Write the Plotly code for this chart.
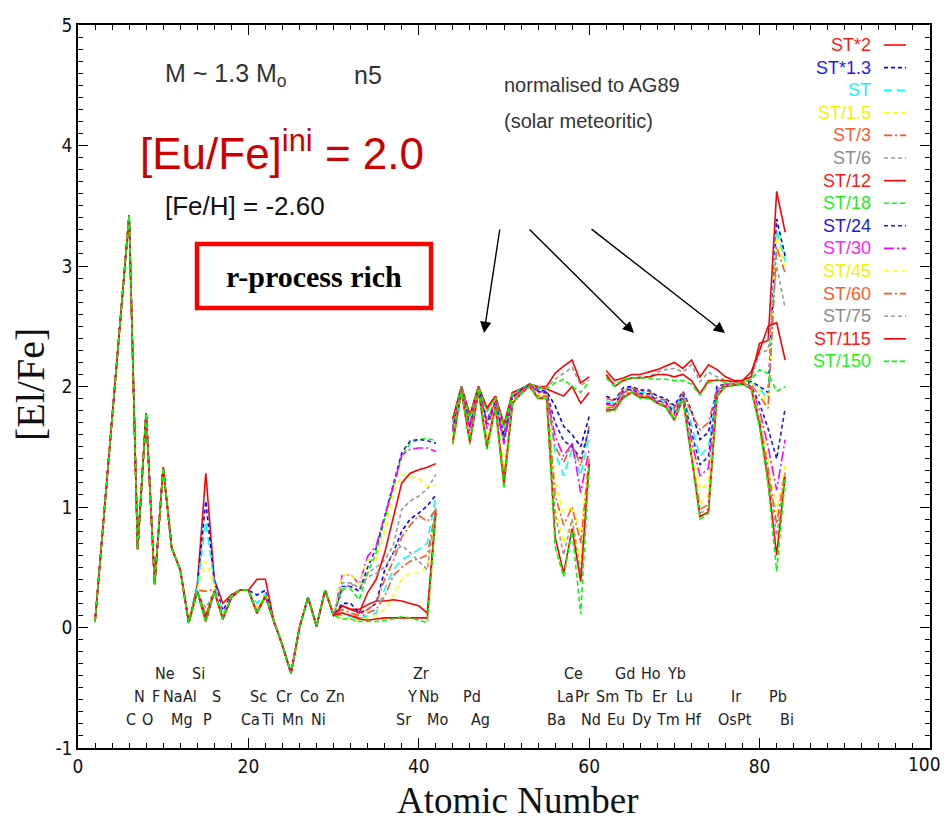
import plotly.graph_objects as go

# ---------------- data ----------------
Z = list(range(2, 84))  # atomic numbers 2..83 (Tc=43 and Pm=61 are gaps)

# values shared by every model
common_light = [0.05, 0.90, 1.75, 2.60, 3.42, 0.65, 1.78, 0.36, 1.33, 0.66, 0.48, 0.04]  # Z 2-13
common_fe = [0.05, -0.15, -0.38, 0.00, 0.25, 0.01, 0.31, 0.10]  # Z 23-30

# per-model values: Z14-22 (9) | Z31-42 (12) | Z44-60 (17) | Z62-83 (22)
st_x2 = [0.35, 1.28, 0.40, 0.20, 0.27, 0.31, 0.31, 0.40, 0.40,
         0.18, 0.15, 0.15, 0.19, 0.22, 0.22, 0.23, 0.22, 0.20, 0.18, 0.12, 0.98,
         1.73, 2.00, 1.76, 2.00, 1.82, 1.92, 1.68, 1.95, 1.98, 2.02, 2.00, 2.00, 2.11, 2.17, 2.22, 2.03, 2.08,
         2.13, 2.05, 2.07, 2.10, 2.10, 2.12, 2.14, 2.17, 2.20, 2.15, 2.22, 2.08, 2.18, 2.14, 2.08, 2.05, 2.05, 2.08, 2.36, 2.38, 3.62, 3.28]
st_x13 = [0.34, 1.05, 0.38, 0.14, 0.27, 0.31, 0.31, 0.27, 0.31,
          0.20, 0.20, 0.12, 0.15, 0.20, 0.48, 0.62, 0.80, 0.90, 0.95, 1.01, 1.10,
          1.66, 1.99, 1.68, 1.99, 1.72, 1.88, 1.60, 1.92, 1.97, 2.01, 1.97, 1.96, 1.84, 1.67, 1.60, 1.50, 1.75,
          1.92, 1.89, 1.99, 2.00, 1.97, 1.97, 1.92, 1.90, 1.84, 1.96, 1.80, 1.56, 1.62, 2.00, 2.02, 2.02, 2.03, 2.04, 2.00, 1.95, 3.39, 3.08]
st = [0.33, 0.88, 0.36, 0.11, 0.26, 0.31, 0.31, 0.20, 0.28,
      0.10, 0.09, 0.07, 0.10, 0.12, 0.32, 0.48, 0.56, 0.60, 0.65, 0.70, 1.09,
      1.65, 1.98, 1.67, 1.98, 1.70, 1.87, 1.55, 1.91, 1.97, 2.01, 1.96, 1.95, 1.45, 1.26, 1.48, 1.26, 1.59,
      1.88, 1.86, 1.97, 1.98, 1.95, 1.95, 1.88, 1.88, 1.80, 1.94, 1.68, 1.42, 1.50, 1.97, 2.02, 2.02, 2.03, 2.03, 1.98, 1.90, 3.30, 3.04]
st_d15 = [0.32, 0.55, 0.34, 0.09, 0.26, 0.31, 0.31, 0.16, 0.27,
          0.08, 0.08, 0.06, 0.08, 0.10, 0.15, 0.26, 0.40, 0.45, 0.45, 0.50, 0.95,
          1.57, 1.97, 1.56, 1.97, 1.54, 1.85, 1.28, 1.88, 1.95, 2.00, 1.93, 1.93, 1.20, 0.95, 1.00, 0.78, 1.42,
          1.85, 1.84, 1.95, 1.97, 1.93, 1.93, 1.86, 1.86, 1.75, 1.92, 1.50, 1.15, 1.20, 1.95, 2.01, 2.02, 2.03, 2.03, 1.96, 1.85, 3.25, 3.00]
st_d3 = [0.31, 0.30, 0.32, 0.08, 0.25, 0.31, 0.31, 0.14, 0.26,
         0.15, 0.12, 0.10, 0.15, 0.20, 0.40, 0.55, 0.75, 0.85, 0.93, 0.88, 0.98,
         1.66, 1.99, 1.68, 1.99, 1.71, 1.88, 1.57, 1.92, 1.97, 2.01, 1.96, 1.95, 1.50, 1.37, 1.53, 1.34, 1.67,
         1.90, 1.88, 1.98, 1.99, 1.96, 1.96, 1.90, 1.89, 1.82, 1.95, 1.78, 1.64, 1.70, 1.98, 2.02, 2.02, 2.03, 2.02, 1.92, 1.82, 3.16, 2.94]
st_d6 = [0.30, 0.16, 0.30, 0.07, 0.25, 0.31, 0.31, 0.13, 0.26,
         0.30, 0.37, 0.30, 0.45, 0.50, 0.56, 0.68, 0.98, 1.05, 1.09, 1.15, 1.27,
         1.72, 2.00, 1.75, 2.00, 1.80, 1.91, 1.67, 1.95, 1.98, 2.02, 2.00, 1.99, 2.06, 2.11, 2.16, 2.01, 2.05,
         2.08, 2.02, 2.05, 2.07, 2.08, 2.08, 2.12, 2.14, 2.15, 2.12, 2.18, 2.04, 2.12, 2.08, 2.05, 2.03, 2.04, 2.06, 2.28, 2.30, 3.00, 2.65]
st_d12 = [0.30, 0.10, 0.30, 0.07, 0.25, 0.31, 0.31, 0.12, 0.26,
          0.18, 0.15, 0.12, 0.29, 0.40, 0.62, 0.90, 1.20, 1.28, 1.31, 1.33, 1.36,
          1.73, 2.00, 1.76, 2.00, 1.82, 1.92, 1.68, 1.95, 1.98, 2.02, 1.99, 1.98, 1.95, 1.92, 2.00, 1.86, 1.95,
          2.10, 2.00, 2.05, 2.07, 2.07, 2.08, 2.10, 2.10, 2.08, 2.10, 2.05, 1.94, 2.05, 2.05, 2.05, 2.04, 2.05, 2.12, 2.30, 2.50, 2.53, 2.22]
st_d18 = [0.30, 0.08, 0.30, 0.07, 0.25, 0.31, 0.31, 0.12, 0.26,
          0.32, 0.32, 0.23, 0.45, 0.62, 0.90, 1.15, 1.42, 1.53, 1.56, 1.57, 1.55,
          1.70, 2.00, 1.74, 2.00, 1.79, 1.91, 1.66, 1.94, 1.98, 2.02, 1.99, 1.98, 2.03, 2.06, 2.00, 1.95, 2.04,
          2.07, 2.00, 2.06, 2.07, 2.07, 2.07, 2.06, 2.06, 2.05, 2.05, 2.02, 1.93, 2.03, 2.06, 2.03, 2.02, 2.03, 2.06, 2.14, 2.11, 1.96, 2.00]
st_d24 = [0.30, 0.07, 0.30, 0.07, 0.25, 0.31, 0.31, 0.12, 0.26,
          0.34, 0.34, 0.30, 0.50, 0.66, 0.92, 1.17, 1.45, 1.55, 1.56, 1.55, 1.53,
          1.64, 1.98, 1.66, 1.98, 1.69, 1.87, 1.55, 1.91, 1.97, 2.01, 1.96, 1.95, 1.70, 1.55, 1.50, 1.40, 1.65,
          1.86, 1.85, 1.96, 1.98, 1.94, 1.94, 1.88, 1.87, 1.78, 1.93, 1.62, 1.35, 1.42, 1.96, 2.01, 2.02, 2.03, 2.00, 1.86, 1.65, 1.40, 1.82]
st_d30 = [0.30, 0.06, 0.30, 0.07, 0.25, 0.31, 0.31, 0.12, 0.26,
          0.43, 0.44, 0.36, 0.59, 0.68, 0.92, 1.17, 1.43, 1.48, 1.49, 1.49, 1.46,
          1.62, 1.98, 1.63, 1.98, 1.65, 1.86, 1.52, 1.90, 1.96, 2.01, 1.95, 1.94, 1.59, 1.42, 1.53, 1.12, 1.48,
          1.85, 1.84, 1.95, 1.97, 1.93, 1.93, 1.87, 1.86, 1.76, 1.92, 1.55, 1.26, 1.32, 1.95, 2.01, 2.02, 2.03, 2.00, 1.80, 1.50, 1.14, 1.56]
st_d45 = [0.30, 0.06, 0.30, 0.07, 0.25, 0.31, 0.31, 0.12, 0.26,
          0.43, 0.44, 0.36, 0.56, 0.56, 0.80, 1.10, 1.27, 1.25, 1.24, 1.17, 1.18,
          1.58, 1.97, 1.57, 1.97, 1.56, 1.85, 1.32, 1.88, 1.95, 2.00, 1.93, 1.93, 1.00, 0.70, 0.90, 0.55, 1.38,
          1.83, 1.83, 1.94, 1.96, 1.92, 1.92, 1.86, 1.85, 1.74, 1.91, 1.45, 1.03, 1.10, 1.94, 2.00, 2.02, 2.03, 1.99, 1.75, 1.38, 0.95, 1.35]
st_d60 = [0.30, 0.05, 0.30, 0.07, 0.25, 0.31, 0.31, 0.12, 0.26,
          0.12, 0.10, 0.08, 0.12, 0.15, 0.26, 0.43, 0.50, 0.55, 0.57, 0.60, 0.98,
          1.56, 1.97, 1.55, 1.97, 1.53, 1.84, 1.25, 1.87, 1.95, 2.00, 1.92, 1.92, 1.10, 0.85, 1.00, 0.70, 1.40,
          1.82, 1.83, 1.93, 1.96, 1.92, 1.92, 1.86, 1.84, 1.73, 1.91, 1.43, 0.98, 1.02, 1.93, 2.00, 2.02, 2.03, 1.99, 1.72, 1.32, 0.86, 1.30]
st_d75 = [0.30, 0.05, 0.30, 0.07, 0.25, 0.31, 0.31, 0.12, 0.26,
          0.37, 0.37, 0.33, 0.42, 0.45, 0.50, 0.62, 0.68, 0.62, 0.55, 0.48, 1.00,
          1.55, 1.96, 1.54, 1.96, 1.51, 1.84, 1.22, 1.87, 1.95, 2.00, 1.91, 1.91, 0.95, 0.60, 0.90, 0.45, 1.38,
          1.81, 1.82, 1.92, 1.95, 1.91, 1.91, 1.86, 1.84, 1.73, 1.90, 1.42, 0.95, 0.98, 1.93, 2.00, 2.02, 2.03, 1.99, 1.70, 1.28, 0.76, 1.28]
st_d115 = [0.30, 0.05, 0.30, 0.07, 0.25, 0.31, 0.31, 0.12, 0.26,
           0.12, 0.10, 0.07, 0.06, 0.07, 0.08, 0.08, 0.08, 0.08, 0.08, 0.08, 0.95,
           1.53, 1.96, 1.53, 1.96, 1.49, 1.83, 1.18, 1.86, 1.94, 2.00, 1.90, 1.90, 0.75, 0.45, 0.82, 0.38, 1.36,
           1.80, 1.81, 1.91, 1.95, 1.91, 1.91, 1.86, 1.83, 1.72, 1.90, 1.42, 0.92, 0.96, 1.92, 2.00, 2.01, 2.02, 1.98, 1.68, 1.22, 0.60, 1.25]
st_d150 = [0.30, 0.04, 0.30, 0.07, 0.25, 0.31, 0.31, 0.12, 0.26,
           0.07, 0.07, 0.05, 0.05, 0.05, 0.06, 0.07, 0.09, 0.08, 0.06, 0.04, 0.93,
           1.52, 1.96, 1.52, 1.96, 1.48, 1.82, 1.15, 1.86, 1.94, 2.00, 1.90, 1.90, 0.67, 0.42, 0.80, 0.11, 1.35,
           1.79, 1.80, 1.90, 1.95, 1.90, 1.90, 1.86, 1.83, 1.72, 1.90, 1.42, 0.90, 0.95, 1.92, 2.00, 2.01, 2.02, 1.98, 1.66, 1.18, 0.47, 1.23]

names = ["ST*2", "ST*1.3", "ST", "ST/1.5", "ST/3", "ST/6", "ST/12", "ST/18",
         "ST/24", "ST/30", "ST/45", "ST/60", "ST/75", "ST/115", "ST/150"]
values = [st_x2, st_x13, st, st_d15, st_d3, st_d6, st_d12, st_d18,
          st_d24, st_d30, st_d45, st_d60, st_d75, st_d115, st_d150]
colors = ["#ff0000", "#0000ff", "#00ffff", "#ffff00", "#ff5522", "#999999", "#ff0000", "#00ff00",
          "#1a1ae6", "#ff00ff", "#ffff00", "#ff5522", "#999999", "#ff0000", "#00ff00"]
text_colors = ["#ff1a1a", "#1a1aff", "#22eeff", "#f2f200", "#ff5a2a", "#8c8c8c", "#ff1a1a", "#22ee22",
               "#1a1ae6", "#ff22ff", "#f2f200", "#ff5a2a", "#8c8c8c", "#ff1a1a", "#22ee22"]
dashes = ["solid", "4px,3px", "8px,5px", "5px,4px", "8px,3px,2px,3px", "4px,3px", "solid", "5px,3px",
          "4px,3px", "10px,3px,2px,3px", "5px,4px", "8px,3px,2px,3px", "4px,3px", "solid", "5px,3px"]

x_ticks = [0, 20, 40, 60, 80, 100]
y_ticks = [-1, 0, 1, 2, 3, 4, 5]

el_row1 = [("Ne", 10), ("Si", 14), ("Zr", 40), ("Ce", 58), ("Gd", 64), ("Ho", 67), ("Yb", 70)]
el_row2 = [("N", 7), ("F", 9), ("Na", 11), ("Al", 13), ("S", 16), ("Sc", 21), ("Cr", 24), ("Co", 27),
           ("Zn", 30), ("Y", 39), ("Nb", 41), ("Pd", 46), ("La", 57), ("Pr", 59), ("Sm", 62), ("Tb", 65),
           ("Er", 68), ("Lu", 71), ("Ir", 77), ("Pb", 82)]
el_row3 = [("C", 6), ("O", 8), ("Mg", 12), ("P", 15), ("Ca", 20), ("Ti", 22), ("Mn", 25), ("Ni", 28),
           ("Sr", 38), ("Mo", 42), ("Ag", 47), ("Ba", 56), ("Nd", 60), ("Eu", 63), ("Dy", 66), ("Tm", 69),
           ("Hf", 72), ("Os", 76), ("Pt", 78), ("Bi", 83)]
row_y = [-0.38, -0.57, -0.76]


def assemble(seg):
    b, d, e, f = seg[:9], seg[9:21], seg[21:38], seg[38:60]
    return common_light + b + common_fe + d + [None] + e + [None] + f


# ---------------- layout helpers ----------------
W, H = 944, 821
L, R, T, B = 78, 14, 25, 73
PW, PH = W - L - R, H - T - B


def px(x):
    return (x - L) / PW


def py(y):
    return (H - B - y) / PH


NARROW = "Liberation Sans Narrow, Arial Narrow, DejaVu Sans Condensed, Liberation Sans, sans-serif"
SANS = "Liberation Sans, Arial, sans-serif"
SERIF = "Liberation Serif, Times New Roman, serif"
TICKFONT = dict(family=NARROW, size=19, color="#111111")

fig = go.Figure()
for n, v, c, d in zip(names, values, colors, dashes):
    fig.add_trace(go.Scatter(x=Z, y=assemble(v), mode="lines", name=n,
                             line=dict(color=c, width=1.6, dash=d),
                             connectgaps=False, showlegend=False, hoverinfo="skip"))

ann = []
shapes = []

# element labels
for row, yv in zip([el_row1, el_row2, el_row3], row_y):
    for sym, z in row:
        ann.append(dict(x=z + 0.2, y=yv, xref="x", yref="y", text=sym, showarrow=False,
                        font=dict(family=NARROW, size=16, color="#222222"),
                        xanchor="center", yanchor="middle"))

# custom legend
leg_y0, leg_dy = 45, 22.6
for i, (n, c, tc, d) in enumerate(zip(names, colors, text_colors, dashes)):
    yy = leg_y0 + i * leg_dy
    ann.append(dict(x=px(873), y=py(yy), xref="paper", yref="paper", text=n, showarrow=False,
                    font=dict(family=SANS, size=18, color=tc), xanchor="right", yanchor="middle"))
    shapes.append(dict(type="line", xref="paper", yref="paper", x0=px(884), x1=px(906),
                       y0=py(yy), y1=py(yy), line=dict(color=c, width=1.6, dash=d)))

# last x tick label kept inside the page edge
ann.append(dict(x=px(943), y=py(764), xref="paper", yref="paper", text=str(x_ticks[-1]),
                showarrow=False, font=TICKFONT, xanchor="right", yanchor="middle"))

# text blocks
ann += [
    dict(x=px(163), y=py(75), xref="paper", yref="paper", text="M ~ 1.3 M<sub>o</sub>", showarrow=False,
         font=dict(family=SANS, size=25, color="#333333"), xanchor="left", yanchor="middle"),
    dict(x=px(352), y=py(75), xref="paper", yref="paper", text="n5", showarrow=False,
         font=dict(family=SANS, size=25, color="#333333"), xanchor="left", yanchor="middle"),
    dict(x=px(138), y=py(150), xref="paper", yref="paper", text="[Eu/Fe]<sup>ini</sup> = 2.0",
         showarrow=False, font=dict(family=SANS, size=44, color="#cc0000"), xanchor="left", yanchor="middle"),
    dict(x=px(163), y=py(206), xref="paper", yref="paper", text="[Fe/H] = -2.60", showarrow=False,
         font=dict(family=SANS, size=26, color="#111111"), xanchor="left", yanchor="middle"),
    dict(x=px(314), y=py(276), xref="paper", yref="paper", text="<b>r-process rich</b>", showarrow=False,
         font=dict(family=SERIF, size=30, color="#000000"), xanchor="center", yanchor="middle"),
    dict(x=px(502), y=py(85), xref="paper", yref="paper", text="normalised to AG89", showarrow=False,
         font=dict(family=SANS, size=20, color="#333333"), xanchor="left", yanchor="middle"),
    dict(x=px(502), y=py(121), xref="paper", yref="paper", text="(solar meteoritic)", showarrow=False,
         font=dict(family=SANS, size=20, color="#333333"), xanchor="left", yanchor="middle"),
    dict(x=px(517), y=py(800), xref="paper", yref="paper", text="Atomic Number", showarrow=False,
         font=dict(family=SERIF, size=37, color="#111111"), xanchor="center", yanchor="middle"),
    dict(x=px(30), y=py(385), xref="paper", yref="paper", text="[El/Fe]", showarrow=False, textangle=-90,
         font=dict(family=SERIF, size=40, color="#111111"), xanchor="center", yanchor="middle"),
]

# arrows
for hx, hy, tx, ty in [(484, 333, 500, 228), (634, 333, 528, 228), (725, 333, 590, 228)]:
    ann.append(dict(x=px(hx), y=py(hy), xref="paper", yref="paper", ax=tx - hx, ay=ty - hy,
                    text="", showarrow=True, arrowhead=2, arrowsize=1.6, arrowwidth=1.4,
                    arrowcolor="#000000"))

# red box
shapes.append(dict(type="rect", xref="paper", yref="paper", x0=px(197), x1=px(431),
                   y0=py(244), y1=py(308), line=dict(color="#ff0000", width=4.5)))

axis_common = dict(showline=True, linecolor="black", linewidth=1.5, mirror="ticks",
                   ticks="inside", tickcolor="black", tickwidth=1.2, ticklen=10,
                   showgrid=False, zeroline=False, automargin=False, tickfont=TICKFONT)

fig.update_layout(
    width=W, height=H,
    margin=dict(l=L, r=R, t=T, b=B, autoexpand=False),
    paper_bgcolor="white", plot_bgcolor="white",
    xaxis=dict(range=[0, 100], tickmode="array", tickvals=x_ticks,
               ticktext=[str(v) for v in x_ticks[:-1]] + [""],
               minor=dict(dtick=2, tick0=0, ticklen=5, ticks="inside", tickcolor="black", tickwidth=1),
               **axis_common),
    yaxis=dict(range=[-1, 5], tickmode="array", tickvals=y_ticks,
               ticktext=[str(v) for v in y_ticks],
               minor=dict(dtick=0.1, tick0=0, ticklen=5, ticks="inside", tickcolor="black", tickwidth=1),
               **axis_common),
    annotations=ann,
    shapes=shapes,
    showlegend=False,
)

fig.write_html("out.html")
